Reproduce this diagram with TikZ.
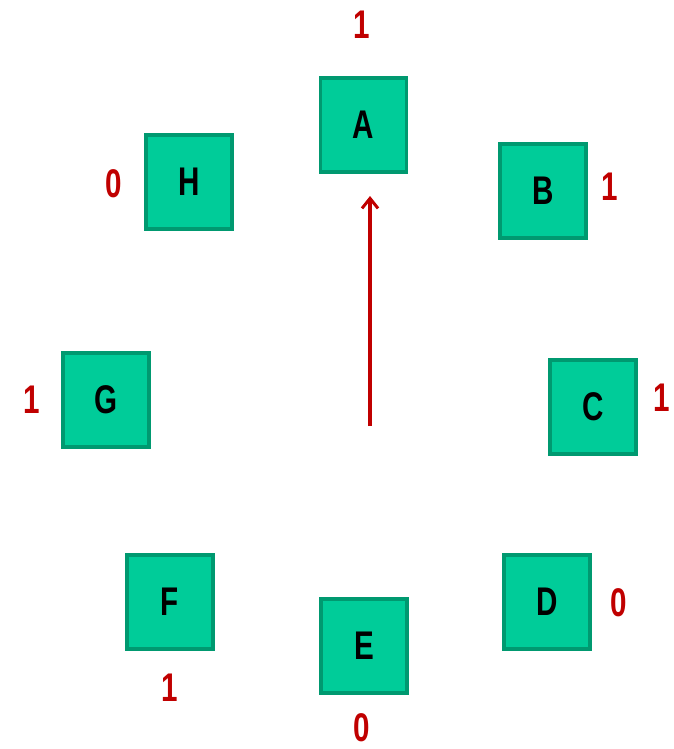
\documentclass[tikz,border=0pt]{standalone}
\usepackage{fontspec}
\setmainfont{Liberation Sans}
\usetikzlibrary{arrows.meta}
\definecolor{boxfill}{HTML}{00CC99}
\definecolor{boxedge}{HTML}{009970}
\definecolor{lblred}{HTML}{C00000}
\begin{document}
\begin{tikzpicture}[x=1pt,y=-1pt,
  box/.style={draw=boxedge,fill=boxfill,line width=3.5pt,minimum width=86pt,minimum height=94pt,inner sep=0pt,
    font=\fontsize{40}{40}\selectfont\bfseries},
  val/.style={text=lblred,inner sep=0pt,font=\fontsize{40}{40}\selectfont\bfseries}]
\useasboundingbox (0,0) rectangle (673,749);
\newcommand{\nr}[1]{\scalebox{0.74}[1]{#1}}
\node[box] (A) at (363.5,125) {\nr{A}};
\node[box] (B) at (543,191) {\nr{B}};
\node[box] (C) at (593,407) {\nr{C}};
\node[box] (D) at (547,602) {\nr{D}};
\node[box] (E) at (364,646) {\nr{E}};
\node[box] (F) at (170,602) {\nr{F}};
\node[box] (G) at (106,400) {\nr{G}};
\node[box] (H) at (189,182) {\nr{H}};
\node[val] (vA) at (362,25) {\nr{1}};
\node[val] (vB) at (610,187) {\nr{1}};
\node[val] (vC) at (662,398) {\nr{1}};
\node[val] (vD) at (619,603) {\nr{0}};
\node[val] (vE) at (362,728) {\nr{0}};
\node[val] (vF) at (170,688) {\nr{1}};
\node[val] (vG) at (32,400) {\nr{1}};
\node[val] (vH) at (114,184) {\nr{0}};
\coordinate (s) at (370,426);
\coordinate (t) at (370,196);
\draw[lblred,line width=3.2pt,-{Straight Barb[length=10pt,width=16pt,line width=3pt]}] (s) -- (t);
\end{tikzpicture}
\end{document}
